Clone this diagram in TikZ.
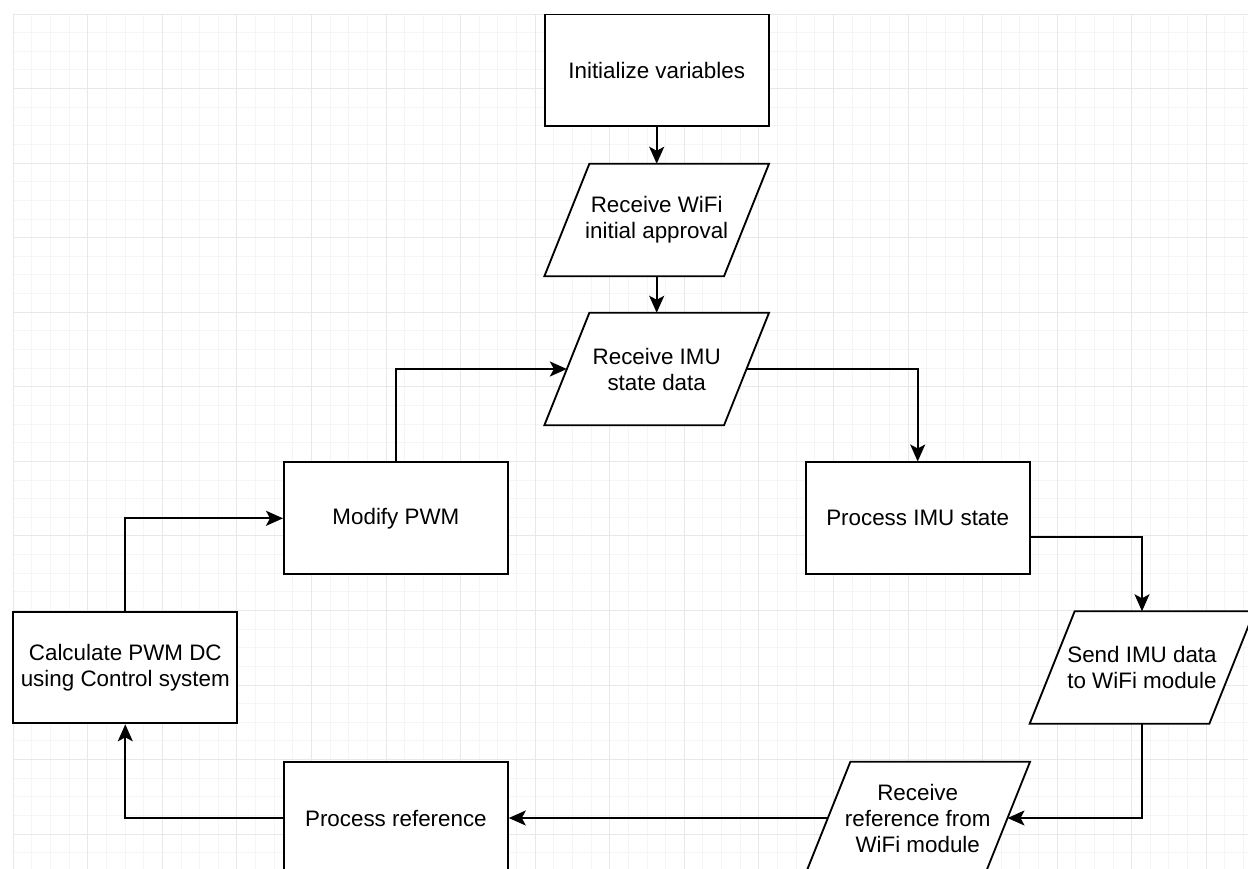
\documentclass[tikz,border=0pt]{standalone}
\usepackage{fontspec}
\setmainfont{Liberation Sans}
\usetikzlibrary{arrows.meta,calc}
\pgfdeclarelayer{gridlayer}
\pgfdeclarelayer{shapelayer}
\pgfsetlayers{gridlayer,shapelayer,main}
\tikzset{
  txt/.style={font=\fontsize{12.74}{14.8}\selectfont, text=black, align=center},
  box/.style={txt, draw=black, fill=white, line width=1.05pt, minimum width=4.48cm, minimum height=2.236cm, inner sep=0pt},
  iotext/.style={txt, minimum width=3.58cm, minimum height=2.236cm, inner sep=0pt},
  ioshape/.style={draw=black, fill=white, line width=1.05pt, line join=miter},
  conn/.style={draw=black, line width=1.05pt, -{Stealth[length=0.34cm,width=0.3cm,inset=0.08cm]}},
  minorgrid/.style={draw=black!4, line width=0.02cm},
  majorgrid/.style={draw=black!9, line width=0.02cm},
}
\newcommand\iobox[1]{%
  \begin{pgfonlayer}{shapelayer}
  \begin{scope}
  \clip (0,0) rectangle (1248,869);
  \draw[ioshape] ([xshift=0.45cm]#1.north west) -- ([xshift=0.45cm]#1.north east)
     -- ([xshift=-0.45cm]#1.south east) -- ([xshift=-0.45cm]#1.south west) -- cycle;
  \end{scope}
  \end{pgfonlayer}}
\begin{document}
\begin{tikzpicture}[x=0.02cm,y=-0.02cm]
\useasboundingbox (0,0) rectangle (1248,869);
\begin{pgfonlayer}{gridlayer}
  \fill[white] (0,0) rectangle (1248,869);
  \foreach \i in {0,...,66} \draw[minorgrid] ({13.3+\i*18.64},14) -- ({13.3+\i*18.64},869);
  \foreach \j in {0,...,45} \draw[minorgrid] (13.3,{14+\j*18.64}) -- (1248,{14+\j*18.64});
  \foreach \i in {0,...,16} \draw[majorgrid] ({13.3+\i*74.56},14) -- ({13.3+\i*74.56},869);
  \foreach \j in {0,...,11} \draw[majorgrid] (13.3,{14+\j*74.56}) -- (1248,{14+\j*74.56});
\end{pgfonlayer}
\begin{scope}
\clip (0,0) rectangle (1248,869);
\node[box] (init) at (656.7,70.4) {Initialize variables};
\node[iotext] (wifi) at (656.7,220) {Receive WiFi\\initial approval};
\node[iotext] (imu) at (656.7,369) {Receive IMU\\state data};
\node[box] (mod) at (395.9,518.3) {Modify PWM};
\node[box] (proc) at (917.7,518.3) {Process IMU state};
\node[iotext] (send) at (1142,667.5) {Send IMU data\\to WiFi module};
\node[iotext] (recv) at (917.7,818) {Receive\\reference from\\WiFi module};
\node[box] (calc) at (125.3,667.5) {Calculate PWM DC\\using Control system};
\node[box] (pref) at (395.9,818) {Process reference};
\end{scope}
\iobox{wifi}
\iobox{imu}
\iobox{send}
\iobox{recv}
\draw[conn] (init.south) -- (wifi.north);
\draw[conn] (wifi.south) -- (imu.north);
\draw[conn] (imu.east) -| (proc.north);
\draw[conn] ([yshift=-0.38cm]proc.east) -| (send.north);
\draw[conn] (send.south) |- (recv.east);
\draw[conn] (recv.west) -- (pref.east);
\draw[conn] (pref.west) -| (calc.south);
\draw[conn] (calc.north) |- (mod.west);
\draw[conn] (mod.north) |- (imu.west);
\end{tikzpicture}
\end{document}
